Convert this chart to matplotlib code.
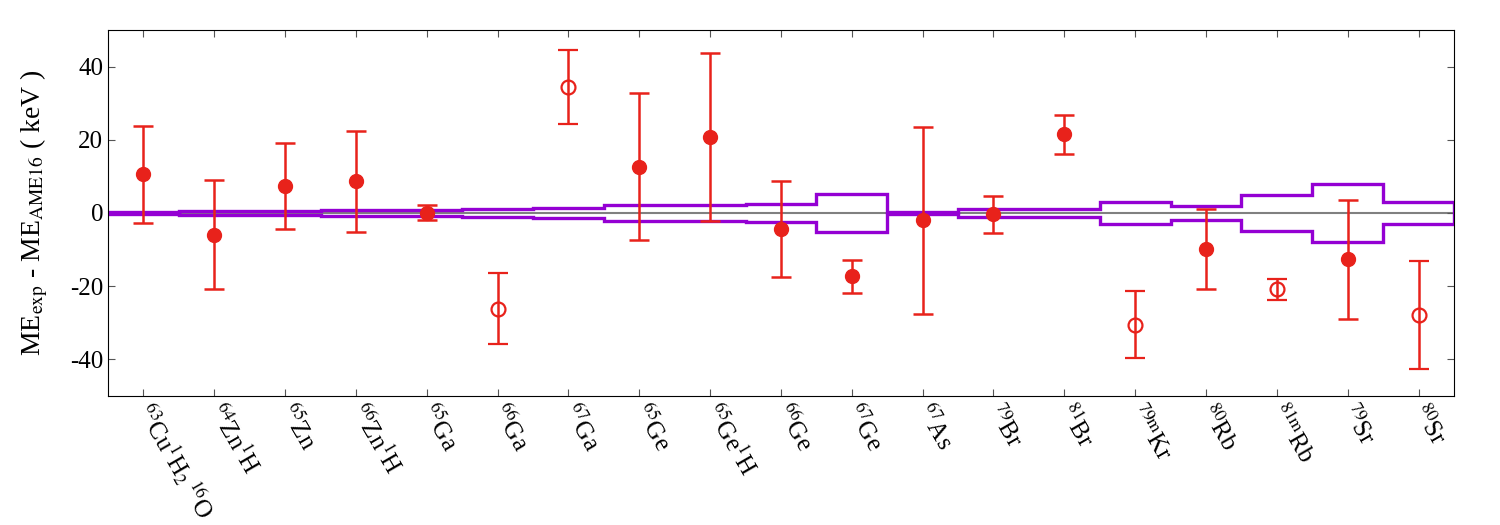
import matplotlib
matplotlib.use("Agg")
import matplotlib.pyplot as plt
import numpy as np

plt.rcParams["font.family"] = ["Liberation Serif", "DejaVu Serif"]
plt.rcParams["mathtext.fontset"] = "stix"
plt.rcParams["axes.unicode_minus"] = False

# nuclides (mathtext labels)
labels = [r"$^{63}$Cu$^{1}$H$_{2}$$\,^{16}$O", r"$^{64}$Zn$^{1}$H", r"$^{65}$Zn", r"$^{66}$Zn$^{1}$H",
          r"$^{65}$Ga", r"$^{66}$Ga", r"$^{67}$Ga", r"$^{65}$Ge", r"$^{65}$Ge$^{1}$H", r"$^{66}$Ge",
          r"$^{67}$Ge", r"$^{67}$As", r"$^{79}$Br", r"$^{81}$Br", r"$^{\mathrm{79m}}$Kr", r"$^{80}$Rb",
          r"$^{\mathrm{81m}}$Rb", r"$^{79}$Sr", r"$^{80}$Sr"]

# ME_exp - ME_AME16 (keV) and uncertainty
delta = [10.6, -5.9, 7.3, 8.7, 0.1, -26.2, 34.4, 12.7, 20.7, -4.3,
         -17.3, -2.0, -0.4, 21.5, -30.5, -9.8, -20.8, -12.7, -27.9]
delta_err = [13.3, 14.8, 11.8, 13.8, 2.15, 9.7, 10.0, 20.2, 23.0, 13.1,
             4.55, 25.5, 5.05, 5.25, 9.25, 11.0, 2.9, 16.15, 14.7]
# open symbol = not in AME16 as measured value
is_open = [False, False, False, False, False, True, True, False, False, False,
           False, False, False, False, True, False, True, False, True]
# AME16 uncertainty band (keV)
ame_err = [0.3, 0.6, 0.6, 0.8, 0.75, 1.15, 1.35, 2.25, 2.25, 2.5,
           5.1, 0.25, 1.0, 1.0, 2.9, 1.9, 5.0, 8.0, 2.9]

red = "#e8221b"
purple = "#9400d3"

x = np.arange(1, len(labels) + 1)
delta = np.array(delta)
delta_err = np.array(delta_err)
is_open = np.array(is_open)
ame_err = np.array(ame_err)

fig = plt.figure(figsize=(15, 5.25), dpi=100)
ax = fig.add_axes([0.072, 0.2457, 0.8973, 0.6972])

ax.axhline(0, color="#808080", lw=1.5, zorder=1)
edges = np.arange(0.5, len(labels) + 1, 1.0)
ax.stairs(ame_err, edges, baseline=-ame_err, color=purple, lw=2.4, zorder=2)

filled = ~is_open
ax.errorbar(x[filled], delta[filled], yerr=delta_err[filled], fmt="o", color=red,
            ms=10, capsize=7, capthick=1.8, elinewidth=1.8, zorder=3)
ax.errorbar(x[is_open], delta[is_open], yerr=delta_err[is_open], fmt="o", color=red,
            mfc="none", mec=red, mew=1.6, ms=10, capsize=7, capthick=1.8,
            elinewidth=1.8, zorder=3)

ax.set_xlim(0.5, len(labels) + 0.5)
ax.set_ylim(-50, 50)
ax.set_yticks([-40, -20, 0, 20, 40])
ax.set_xticks(x)
ax.set_xticklabels(labels, rotation=-60, ha="left", va="center",
                   rotation_mode="anchor", fontsize=16)
ax.tick_params(direction="in", top=True, right=True, length=5, width=0.8,
               color="#555555", labelsize=18)
ax.tick_params(axis="x", pad=7)
ax.set_ylabel(r"ME$_{\rm exp}$ - ME$_{\rm AME16}$ ( keV )", fontsize=20, labelpad=14)

fig.savefig("out.png", dpi=100)
